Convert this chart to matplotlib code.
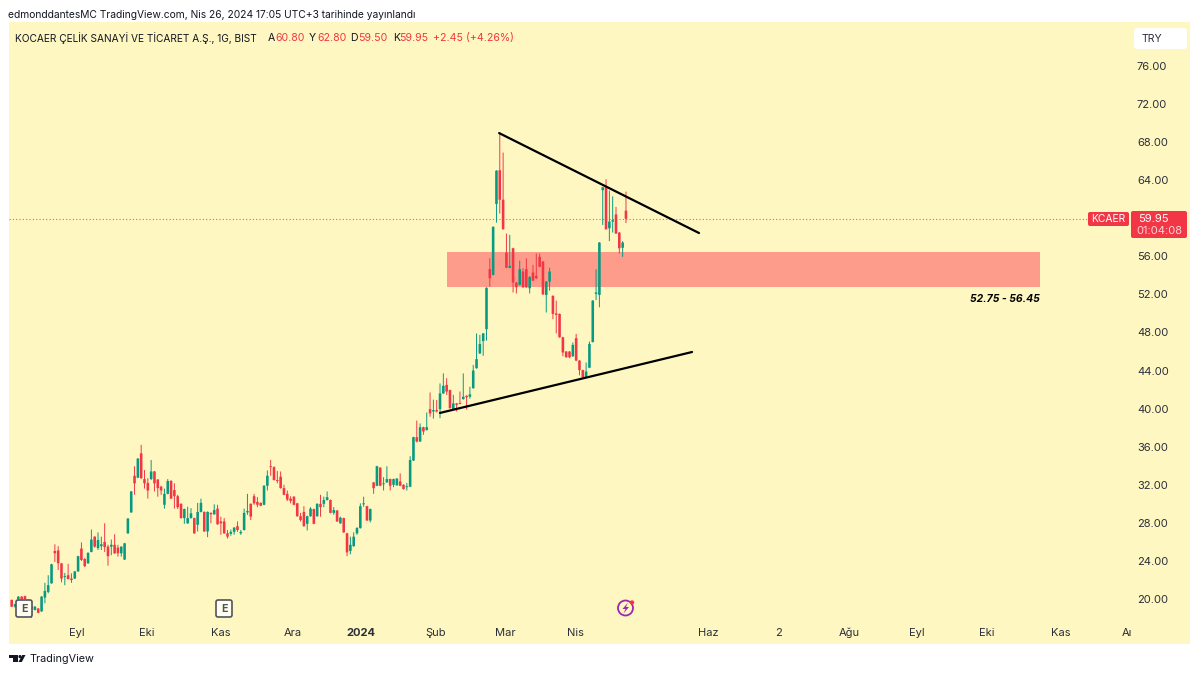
"""KCAER daily candles with the triangle and the 52.75-56.45 zone, TradingView style."""
import matplotlib
matplotlib.use("Agg")
import matplotlib.pyplot as plt
import matplotlib.patches as mpatches
import matplotlib.transforms as mtrans

plt.rcParams["font.family"] = ["Inter", "DejaVu Sans"]

opens = [19.9, 19.2, 20.0, 20.25, 20.3, 19.6, 19.2, 18.85, 19.0, 18.7,
         20.15, 20.75, 21.65, 25.05, 25.1, 23.75, 22.3, 22.5, 22.15, 22.15,
         22.9, 25.3, 24.2, 23.75, 24.95, 26.55, 25.35, 25.55, 26.0, 25.5,
         25.5, 25.7, 25.4, 24.8, 24.15, 26.9, 29.1, 32.95, 32.75, 35.3,
         32.6, 32.2, 32.6, 33.4, 32.55, 31.8, 29.9, 31.05, 32.4, 31.45,
         30.8, 30.0, 28.5, 27.95, 28.5, 28.5, 27.8, 29.15, 29.15, 27.1,
         29.05, 28.9, 29.5, 28.15, 28.15, 26.9, 26.85, 27.05, 27.65, 26.9,
         27.25, 29.1, 30.0, 30.8, 30.2, 30.1, 29.9, 31.9, 33.95, 33.85,
         32.5, 32.85, 31.65, 31.05, 30.55, 30.75, 30.05, 28.7, 29.15, 27.9,
         28.7, 29.45, 28.7, 30.0, 30.0, 30.4, 30.4, 29.05, 29.3, 27.95,
         28.5, 26.9, 25.05, 25.55, 26.9, 27.45, 29.95, 29.75, 28.25, 32.25,
         31.9, 33.8, 32.05, 32.25, 32.6, 32.0, 31.95, 32.35, 32.0, 31.75,
         31.8, 34.55, 37.0, 36.55, 38.05, 37.75, 39.95, 39.7, 39.85, 39.95,
         41.6, 42.5, 41.95, 39.95, 40.55, 40.6, 41.0, 41.35, 41.25, 42.15,
         44.25, 45.8, 47.1, 48.35, 54.65, 54.05, 61.5, 65.05, 61.95, 56.4,
         54.8, 56.85, 53.25, 53.0, 54.4, 54.65, 52.65, 54.3, 53.95, 55.95,
         55.45, 51.95, 53.35, 51.85, 50.0, 49.95, 47.5, 46.0, 46.0, 45.5,
         47.4, 45.05, 44.05, 43.3, 44.3, 47.0, 52.05, 51.95, 62.95, 63.25,
         58.95, 59.65, 60.4, 58.5, 56.9, 60.8]
highs = [19.95, 19.5, 20.3, 20.3, 20.35, 19.65, 19.25, 19.25, 19.05, 20.3,
         21.7, 22.5, 23.7, 25.75, 25.55, 23.75, 22.75, 23.7, 22.7, 22.95,
         24.55, 25.95, 24.3, 24.9, 27.3, 26.6, 27.0, 26.55, 27.95, 25.7,
         26.25, 26.8, 25.7, 25.55, 25.9, 28.5, 31.35, 33.95, 34.8, 36.2,
         33.55, 32.7, 34.6, 33.45, 32.6, 31.9, 31.6, 32.6, 32.5, 32.15,
         30.95, 30.05, 29.5, 29.7, 29.55, 28.55, 30.1, 30.55, 29.2, 29.2,
         29.1, 29.95, 29.9, 28.65, 28.5, 27.25, 27.3, 27.55, 28.15, 27.25,
         29.5, 31.05, 30.05, 31.05, 30.7, 30.15, 31.95, 33.5, 34.6, 33.95,
         33.45, 33.4, 32.0, 31.4, 30.8, 30.8, 30.1, 29.05, 29.75, 28.75,
         29.65, 29.5, 30.05, 30.95, 30.75, 31.3, 30.45, 29.65, 29.35, 28.65,
         28.55, 26.95, 26.55, 27.0, 27.55, 30.05, 30.75, 29.8, 29.5, 32.3,
         34.0, 33.85, 32.8, 33.95, 32.65, 32.65, 32.7, 33.2, 32.05, 32.2,
         35.0, 37.05, 38.75, 38.45, 38.1, 39.6, 41.7, 40.95, 40.9, 42.65,
         43.7, 43.2, 42.0, 41.45, 40.6, 41.8, 43.7, 41.4, 42.3, 44.6,
         47.9, 47.75, 47.95, 52.75, 55.8, 59.15, 65.05, 69.0, 66.9, 58.4,
         58.25, 56.9, 53.3, 55.55, 54.75, 55.8, 53.9, 55.1, 56.3, 56.3,
         55.5, 53.4, 54.8, 51.9, 51.35, 50.0, 47.55, 46.05, 46.05, 46.95,
         47.85, 45.1, 44.1, 44.85, 47.05, 51.4, 54.65, 57.5, 63.3, 64.1,
         62.9, 62.3, 61.2, 58.55, 57.6, 62.8]
lows = [19.15, 19.1, 19.95, 19.95, 19.95, 19.25, 18.0, 18.8, 18.5, 18.65,
        19.55, 20.6, 21.6, 23.9, 23.05, 21.75, 21.45, 22.05, 21.7, 22.1,
        22.85, 24.0, 23.35, 23.7, 24.9, 25.4, 25.15, 25.15, 24.95, 23.5,
        24.6, 24.75, 24.45, 24.45, 24.1, 26.85, 29.05, 30.95, 32.7, 32.6,
        31.6, 30.55, 32.5, 31.3, 30.75, 30.95, 29.5, 31.0, 30.5, 29.5,
        29.45, 28.45, 27.9, 27.9, 28.45, 26.85, 27.1, 29.1, 27.05, 26.5,
        27.95, 28.85, 27.8, 26.75, 26.85, 26.35, 26.65, 26.75, 27.05, 26.75,
        27.2, 28.85, 28.3, 29.9, 29.65, 29.75, 29.85, 31.4, 32.95, 32.45,
        32.15, 31.6, 30.9, 30.3, 30.05, 29.85, 28.65, 28.15, 27.6, 27.2,
        28.65, 27.85, 28.65, 28.65, 29.65, 30.35, 29.0, 28.85, 28.1, 27.9,
        26.95, 24.5, 24.7, 25.5, 26.75, 27.4, 29.7, 28.2, 28.05, 31.05,
        31.85, 31.85, 31.4, 32.2, 31.4, 31.75, 31.9, 31.85, 31.5, 31.4,
        31.75, 34.5, 36.45, 36.5, 37.25, 37.7, 39.15, 38.95, 39.6, 39.0,
        41.55, 41.45, 40.0, 39.9, 39.7, 40.45, 40.95, 39.9, 41.05, 42.1,
        44.2, 45.75, 45.55, 47.15, 52.8, 54.0, 59.55, 60.5, 58.8, 54.75,
        54.75, 52.2, 52.1, 52.95, 52.7, 52.7, 52.1, 53.4, 53.6, 54.85,
        51.95, 50.1, 52.4, 49.4, 47.9, 47.45, 45.5, 45.35, 45.3, 45.45,
        45.0, 43.5, 43.25, 43.25, 44.25, 46.95, 51.4, 50.65, 59.3, 58.8,
        57.6, 58.5, 58.35, 56.3, 55.95, 59.5]
closes = [19.2, 19.45, 20.25, 20.0, 20.0, 19.3, 19.0, 19.2, 18.55, 20.25,
          20.85, 21.45, 23.65, 24.8, 23.75, 22.15, 22.4, 22.1, 22.0, 22.9,
          24.5, 24.1, 23.45, 24.85, 26.25, 25.5, 26.2, 25.75, 25.45, 24.5,
          25.7, 24.8, 24.8, 25.5, 25.85, 28.45, 31.3, 32.15, 34.75, 32.7,
          32.15, 31.4, 33.4, 32.15, 31.65, 31.4, 31.05, 32.4, 30.55, 30.8,
          29.65, 28.5, 29.45, 28.5, 29.0, 26.9, 29.15, 30.1, 27.1, 29.15,
          28.9, 29.35, 27.85, 27.95, 26.9, 26.55, 27.05, 27.5, 27.25, 27.05,
          29.05, 29.25, 28.65, 30.05, 29.9, 29.8, 31.9, 32.95, 33.85, 32.5,
          32.4, 31.65, 30.95, 30.45, 30.3, 29.9, 28.7, 28.3, 27.65, 28.7,
          29.5, 27.9, 30.0, 29.65, 30.4, 30.7, 29.05, 29.35, 28.15, 28.55,
          27.0, 24.9, 25.7, 26.55, 27.45, 29.75, 30.05, 28.25, 29.45, 31.65,
          33.95, 31.9, 32.15, 32.6, 31.9, 32.6, 32.65, 31.9, 31.55, 31.8,
          34.6, 37.0, 36.55, 38.05, 37.6, 38.05, 39.5, 39.85, 39.7, 41.6,
          42.4, 41.8, 40.05, 40.55, 40.4, 40.5, 41.25, 41.2, 41.5, 44.0,
          45.2, 46.8, 47.9, 52.7, 53.7, 59.1, 65.0, 61.95, 58.85, 54.8,
          55.0, 53.25, 52.75, 54.65, 52.75, 52.75, 53.85, 53.45, 53.7, 54.9,
          52.0, 53.35, 54.4, 49.95, 49.85, 47.5, 45.9, 45.4, 45.4, 46.7,
          45.05, 44.05, 43.3, 43.9, 46.8, 51.35, 52.2, 57.45, 63.25, 58.85,
          59.65, 59.8, 58.4, 56.85, 57.45, 59.95]

last_price = 59.95
zone_low, zone_high = 52.75, 56.45
zone_bars = [131.2, 309.7]
resistance_bars = [146.8, 207.0]
resistance_prices = [68.95, 58.45]
support_bars = [129.0, 204.9]
support_prices = [39.55, 45.95]

price_ticks = [20, 24, 28, 32, 36, 40, 44, 48, 52, 56, 60, 64, 68, 72, 76]
month_bars = [19.7, 40.75, 63.0, 84.7, 105.2, 127.8, 148.6, 169.7, 209.7, 230.8, 252.2,
              272.7, 293.8, 315.8, 336.0]
month_labels = ["Eyl", "Eki", "Kas", "Ara", "2024", "Şub", "Mar", "Nis", "Haz", "2", "Ağu",
                "Eyl", "Eki", "Kas", "Aı"]

BG = "#FFF7C2"
UP = "#089981"
DOWN = "#F23645"
INK = "#2A2E39"
W, H = 1200, 674

fig = plt.figure(figsize=(W / 100, H / 100), dpi=100, facecolor="white")
# pixel coordinates of the picture, y going down, for the TradingView chrome
PX = mtrans.Affine2D().scale(1, -1).translate(0, H)


def box(x0, y0, x1, y1, color, round_px=2, z=5, edgecolor="none", linewidth=0):
    p = mpatches.FancyBboxPatch((x0 + round_px, y0 + round_px), x1 - x0 - 2 * round_px, y1 - y0 - 2 * round_px,
                                boxstyle=f"round,pad={round_px},rounding_size={round_px}",
                                facecolor=color, edgecolor=edgecolor, linewidth=linewidth, transform=PX, zorder=z)
    fig.add_artist(p)
    return p


def label(x, y, s, color=INK, size=8, ha="left", **kw):
    fig.add_artist(plt.Text(x, y, s, color=color, fontsize=size, ha=ha, va="center", transform=PX, zorder=6, **kw))


fig.add_artist(mpatches.Rectangle((9, 22), 1181, 622, facecolor=BG, edgecolor="none", transform=PX, zorder=-2))

ax = fig.add_axes([9 / W, 1 - 623 / H, 1121 / W, 601 / H], zorder=1)
ax.patch.set_alpha(0)
ax.set_xlim(-0.81, 336.8)
ax.set_ylim(17.48, 80.62)
for s in ax.spines.values():
    s.set_visible(False)

ax.fill_between(zone_bars, zone_low, zone_high, color="#FD9C8B", lw=0, zorder=1)
ax.axhline(last_price, xmax=1079 / 1121, color=DOWN, lw=0.8, ls=(0, (1, 2)), alpha=0.8, zorder=1.5)

bars = range(len(opens))
colors = [UP if c >= o else DOWN for o, c in zip(opens, closes)]
wicks = ax.vlines(bars, lows, highs, colors=colors, lw=0.7, zorder=2)
wicks.set_snap(False)
bodies = ax.bar(bars, [max(abs(c - o), 0.1) for o, c in zip(opens, closes)],
                bottom=[min(o, c) for o, c in zip(opens, closes)],
                width=0.78, color=colors, lw=0, zorder=2.5)
for b in bodies:
    b.set_snap(False)

ax.plot(resistance_bars, resistance_prices, color="black", lw=1.6, zorder=3, solid_capstyle="round")
ax.plot(support_bars, support_prices, color="black", lw=1.6, zorder=3, solid_capstyle="round")
ax.text(zone_bars[1], 51.55, f"{zone_low} - {zone_high}", ha="right", va="center", fontsize=7.5,
        fontweight="bold", fontstyle="italic", color="black")

ax.yaxis.tick_right()
ax.set_yticks([p for p in price_ticks if p != 60], [f"{p:.2f}" for p in price_ticks if p != 60])
ax.set_xticks(month_bars, month_labels)
ax.tick_params(length=0, labelsize=8, labelcolor=INK)
ax.tick_params(axis="y", pad=5)
ax.tick_params(axis="x", pad=3.6)
for t in ax.get_xticklabels():
    if t.get_text() == "2024":
        t.set_fontweight("bold")

# header
label(8, 15, "edmonddantesMC TradingView.com, Nis 26, 2024 17:05 UTC+3 tarihinde yayınlandı", color="#131722", size=7.37)
label(15, 38, "KOCAER ÇELİK SANAYİ VE TİCARET A.Ş., 1G, BIST", color="#131722", size=7.3)
for x, s, c in [(268, "A", "#131722"), (275, "60.80", DOWN), (309, "Y", "#131722"), (317, "62.80", DOWN),
                (350, "D", "#131722"), (358, "59.50", DOWN), (393, "K", "#131722"), (399, "59.95", DOWN),
                (433, "+2.45 (+4.26%)", DOWN)]:
    label(x, 38, s, color=c, size=7.6)

# currency button and last price tags
box(1134, 28, 1187, 49, "white", round_px=3)
label(1142, 38.5, "TRY", size=7.6)
box(1088, 212, 1129, 226, DOWN)
label(1108.5, 219, "KCAER", color="white", size=7.4, ha="center")
box(1131, 211, 1187, 238, DOWN)
label(1138, 218.5, "59.95", color="white", size=8)
label(1136, 231, "01:04:08", color="#FFD5D8", size=8)

# earnings and dividend-style markers on the time scale
for x0 in (16, 216):
    box(x0, 600, x0 + 16, 617, "#FFFDF0", round_px=2, edgecolor="#50535E", linewidth=1.2)
    label(x0 + 8, 608.5, "E", color="#50535E", size=7.6, ha="center", fontweight="bold")
fig.add_artist(mpatches.Circle((625.5, 608), 7.5, facecolor="none", edgecolor="#9C27B0", lw=1.3, transform=PX, zorder=5))
fig.add_artist(mpatches.Polygon([(628, 602.5), (622.5, 609), (625.5, 609), (623.5, 613.5), (629, 607), (626, 607)],
                                closed=True, facecolor="#9C27B0", edgecolor="none", transform=PX, zorder=6))
fig.add_artist(mpatches.Circle((632, 602.5), 2.2, facecolor=DOWN, edgecolor="none", transform=PX, zorder=7))

# footer logo
fig.add_artist(mpatches.Polygon([(9, 655), (17.5, 655), (17.5, 662), (12.5, 662), (12.5, 658), (9, 658)], closed=True,
                                facecolor="#131722", edgecolor="none", transform=PX, zorder=5))
fig.add_artist(mpatches.Circle((20, 656.6), 1.6, facecolor="#131722", edgecolor="none", transform=PX, zorder=5))
fig.add_artist(mpatches.Polygon([(22.3, 655), (25.5, 655), (21.8, 662), (18.4, 662)], closed=True,
                                facecolor="#131722", edgecolor="none", transform=PX, zorder=5))
label(29, 659, "TradingView", color="#131722", size=7.8)

fig.savefig("out.png", dpi=100)
